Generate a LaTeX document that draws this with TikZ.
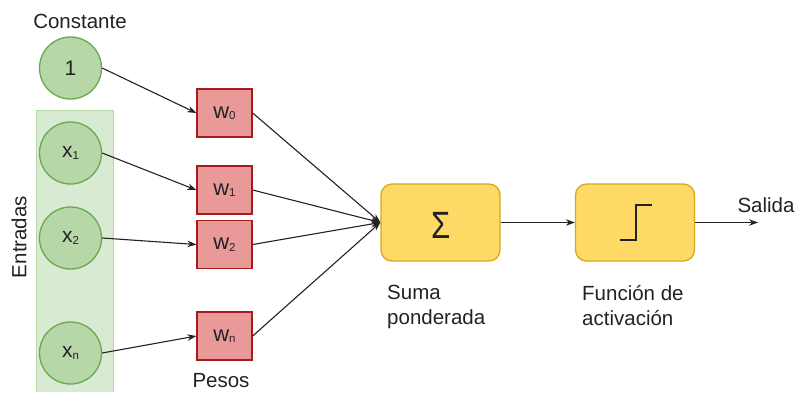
\documentclass[tikz,border=0pt]{standalone}
\usepackage{fontspec}
\setmainfont{Liberation Sans}
\usetikzlibrary{arrows.meta}
\definecolor{inpfill}{HTML}{B6D7A8}
\definecolor{inpdraw}{HTML}{6AA84F}
\definecolor{bandfill}{HTML}{D9EAD3}
\definecolor{banddraw}{HTML}{B6D7A8}
\definecolor{wfill}{HTML}{EA9999}
\definecolor{wdraw}{HTML}{A61C1C}
\definecolor{opfill}{HTML}{FFD966}
\definecolor{opdraw}{HTML}{D6A91E}
\definecolor{txt}{HTML}{222222}
\tikzset{
  inp/.style={circle, fill=inpfill, draw=inpdraw, line width=1.3pt,
    minimum size=62pt, inner sep=0pt, font=\fontsize{21}{24}\selectfont, text=txt},
  wbox/.style={rectangle, fill=wfill, draw=wdraw, line width=1.3pt,
    minimum width=55pt, minimum height=48pt, inner sep=0pt,
    font=\fontsize{22}{24}\selectfont, text=txt},
  opbox/.style={rectangle, rounded corners=11pt, fill=opfill, draw=opdraw,
    line width=1.3pt, minimum width=119pt, minimum height=77pt, inner sep=0pt},
  lbl/.style={font=\fontsize{20.5}{25}\selectfont, text=txt, inner sep=0pt},
  conn/.style={line width=1.1pt, draw=txt,
    -{Stealth[length=9pt,width=6.5pt]}}
}
\newcommand{\sbs}[1]{\raisebox{-1.5pt}{\fontsize{11.5}{12}\selectfont #1}}
\begin{document}
\begin{tikzpicture}[x=1pt,y=-1pt]
\useasboundingbox (0,0) rectangle (797,392);
% band behind the input neurons
\fill[bandfill] (36,110) rectangle (113,392);
\draw[banddraw, line width=1pt] (36,392) -- (36,110) -- (113,110) -- (113,392);

\node[lbl] (constante) at (80,21) {Constante};
\node[lbl, rotate=90] (entradas) at (19,237) {Entradas};

% inputs
\node[inp] (c1) at (70.5,68) {1};
\node[inp] (x1) at (70.5,153) {x\sbs{1}};
\node[inp] (x2) at (70.5,238) {x\sbs{2}};
\node[inp] (xn) at (70.5,353) {x\sbs{n}};

% weights
\node[wbox] (w0) at (224.5,113) {w\sbs{0}};
\node[wbox] (w1) at (224.5,190) {w\sbs{1}};
\node[wbox] (w2) at (224.5,244.5) {w\sbs{2}};
\node[wbox] (wn) at (224.5,336) {w\sbs{n}};
\node[lbl] (pesos) at (221,380.5) {Pesos};

% summation and activation
\node[opbox] (sum) at (440.5,222.5) {};
\node[font=\fontsize{38}{38}\selectfont, text=txt, inner sep=0pt, xscale=0.82]
  (sigma) at (441,225.5) {Σ};
\node[opbox] (act) at (635,222.5) {};
\coordinate (s1) at (620,240);
\coordinate (s2) at (636,240);
\coordinate (s3) at (636,205);
\coordinate (s4) at (652,205);
\draw[line width=2.2pt, txt] (s1) -- (s2) -- (s3) -- (s4);

\node[lbl, align=left, anchor=north west] (sumlbl) at (387,285) {Suma\\ponderada};
\node[lbl, align=left, anchor=north west] (actlbl) at (582,285) {Función de\\activación};

\coordinate (out) at (758,222.5);
\node[lbl] (salida) at (766,205) {Salida};

% connectors
\draw[conn] (c1.east) -- (w0.west);
\draw[conn] (x1.east) -- (w1.west);
\draw[conn] (x2.east) -- (w2.west);
\draw[conn] (xn.east) -- (wn.west);
\draw[conn] (w0.east) -- (sum.west);
\draw[conn] (w1.east) -- (sum.west);
\draw[conn] (w2.east) -- (sum.west);
\draw[conn] (wn.east) -- (sum.west);
\draw[conn] (sum.east) -- (act.west);
\draw[conn] (act.east) -- (out);
\end{tikzpicture}
\end{document}
